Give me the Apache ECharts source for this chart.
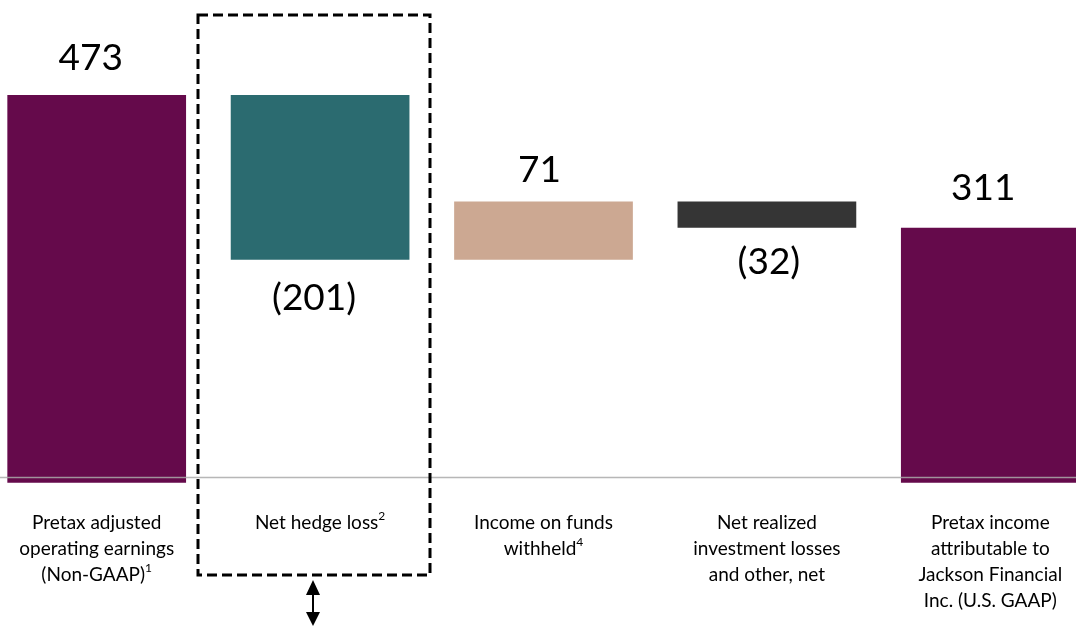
<!DOCTYPE html>
<html>
<head>
<meta charset="utf-8">
<script src="https://cdn.jsdelivr.net/npm/echarts@6/dist/echarts.min.js"></script>
<style>
  html, body { margin: 0; padding: 0; background: #fff; }
  #chart { width: 1076px; height: 626px; }
</style>
</head>
<body>
<div id="chart"></div>
<script>
// Bridge from adjusted operating earnings to pretax GAAP income ($ millions)
const categories = [
  'Pretax adjusted\noperating earnings\n(Non-GAAP){sup|1}',
  'Net hedge loss{sup|2}',
  'Income on funds\nwithheld{sup|4}',
  'Net realized\ninvestment losses\nand other, net',
  'Pretax income\nattributable to\nJackson Financial\nInc. (U.S. GAAP)'
];
const startValue = 473;
const changes = [-201, 71, -32];
const endValue = 311;
const valueLabels = ['473', '(201)', '71', '(32)', '311'];
const barColors = ['#650A4B', '#2B6B70', '#CCA892', '#353535', '#650A4B'];

// Label placement tweaks per bar (gap from bar edge, horizontal nudge)
const labelGap = [19, 20, 13, 16, 21];
const labelNudge = [-6, -6, -4, 2, -7];

// Build invisible base + visible segment for each step of the bridge
const base = [0];
const seg = [startValue];
let running = startValue;
changes.forEach(c => {
  const next = running + c;
  base.push(Math.min(running, next));
  seg.push(Math.abs(c));
  running = next;
});
base.push(0);
seg.push(endValue);

const signs = [1].concat(changes.map(c => Math.sign(c))).concat([1]);

const chart = echarts.init(document.getElementById('chart'));
const FONT = 'Lato, "Open Sans", sans-serif';

chart.setOption({
  animation: false,
  grid: { left: -15, right: -26, top: 0, bottom: 143.3, containLabel: false, outerBoundsMode: 'none' },
  xAxis: {
    type: 'category',
    data: categories,
    axisLine: { show: false },
    axisTick: { show: false },
    axisLabel: {
      interval: 0,
      margin: 27,
      fontFamily: FONT,
      fontSize: 19,
      lineHeight: 26,
      color: '#000',
      verticalAlign: 'top',
      rich: {
        sup: { fontFamily: FONT, fontSize: 12, lineHeight: 14, verticalAlign: 'top', color: '#000' }
      }
    }
  },
  yAxis: {
    type: 'value',
    min: 0,
    max: 589,
    show: false,
    splitLine: { show: false }
  },
  series: [
    {
      type: 'bar',
      stack: 'bridge',
      barWidth: '80%',
      itemStyle: { color: 'transparent' },
      emphasis: { disabled: true },
      data: base
    },
    {
      type: 'bar',
      stack: 'bridge',
      barWidth: '80%',
      data: seg.map((v, i) => ({
        value: v,
        itemStyle: { color: barColors[i] },
        label: {
          show: true,
          position: signs[i] < 0 ? 'bottom' : 'top',
          distance: labelGap[i],
          offset: [labelNudge[i], 0],
          formatter: valueLabels[i],
          fontFamily: FONT,
          fontSize: 37,
          color: '#000'
        }
      }))
    }
  ],
  graphic: [
    {
      type: 'line',
      z: 100,
      shape: { x1: 0, y1: 477.5, x2: 1076, y2: 477.5 },
      style: { stroke: 'rgba(170,170,170,0.85)', lineWidth: 1.5 }
    },
    {
      type: 'rect',
      z: 100,
      shape: { x: 198, y: 15, width: 232, height: 560 },
      style: { fill: null, stroke: '#000', lineWidth: 3, lineDash: [10, 5] }
    },
    {
      type: 'line',
      z: 100,
      shape: { x1: 313, y1: 590, x2: 313, y2: 618 },
      style: { stroke: '#000', lineWidth: 2 }
    },
    {
      type: 'polygon',
      z: 100,
      shape: { points: [[306, 595], [320, 595], [313, 580]] },
      style: { fill: '#000' }
    },
    {
      type: 'polygon',
      z: 100,
      shape: { points: [[306, 612], [320, 612], [313, 626]] },
      style: { fill: '#000' }
    }
  ]
});
</script>
</body>
</html>
